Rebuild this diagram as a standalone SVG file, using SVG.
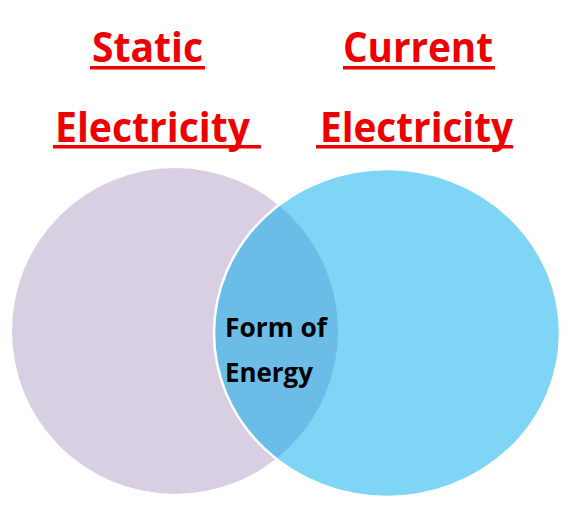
<svg xmlns="http://www.w3.org/2000/svg" width="574" height="508" viewBox="0 0 574 508">
<style>
.h{font-family:"Open Sans","Liberation Sans",sans-serif;font-weight:bold;font-size:42px;fill:#ec0000}
.u{fill:#ec0000}
.c{font-family:"Open Sans","Liberation Sans",sans-serif;font-weight:bold;font-size:27px;fill:#000}
</style>
<defs>
<clipPath id="rc"><ellipse cx="387" cy="333" rx="173" ry="164"/></clipPath>
</defs>
<rect width="574" height="508" fill="#fff"/>
<g id="static-circle"><circle cx="175" cy="331" r="163" fill="#d8cfe3"/></g>
<g id="current-circle"><ellipse cx="387" cy="333" rx="173" ry="164" fill="#7fd5f5"/></g>
<g id="overlap">
<circle cx="175" cy="331" r="163" fill="#6bbde8" clip-path="url(#rc)"/>
<ellipse cx="387" cy="333" rx="173" ry="164" fill="none" stroke="#fff" stroke-width="2.5"/>
<text class="c" x="225" y="337" textLength="102" lengthAdjust="spacingAndGlyphs">Form of</text>
<text class="c" x="225" y="382" textLength="88" lengthAdjust="spacingAndGlyphs">Energy</text>
</g>
<g id="static-title">
<text class="h" x="92" y="62" textLength="111" lengthAdjust="spacingAndGlyphs">Static</text>
<rect class="u" x="90" y="66" width="115" height="3.5"/>
<text class="h" x="55" y="141.5" textLength="195" lengthAdjust="spacingAndGlyphs">Electricity</text>
<rect class="u" x="53" y="145" width="208" height="3.5"/>
</g>
<g id="current-title">
<text class="h" x="343" y="62" textLength="150" lengthAdjust="spacingAndGlyphs">Current</text>
<rect class="u" x="343" y="66" width="152" height="3.5"/>
<text class="h" x="320" y="141.5" textLength="193" lengthAdjust="spacingAndGlyphs">Electricity</text>
<rect class="u" x="316" y="145" width="197" height="3.5"/>
</g>
<g id="connectors"/>
</svg>
